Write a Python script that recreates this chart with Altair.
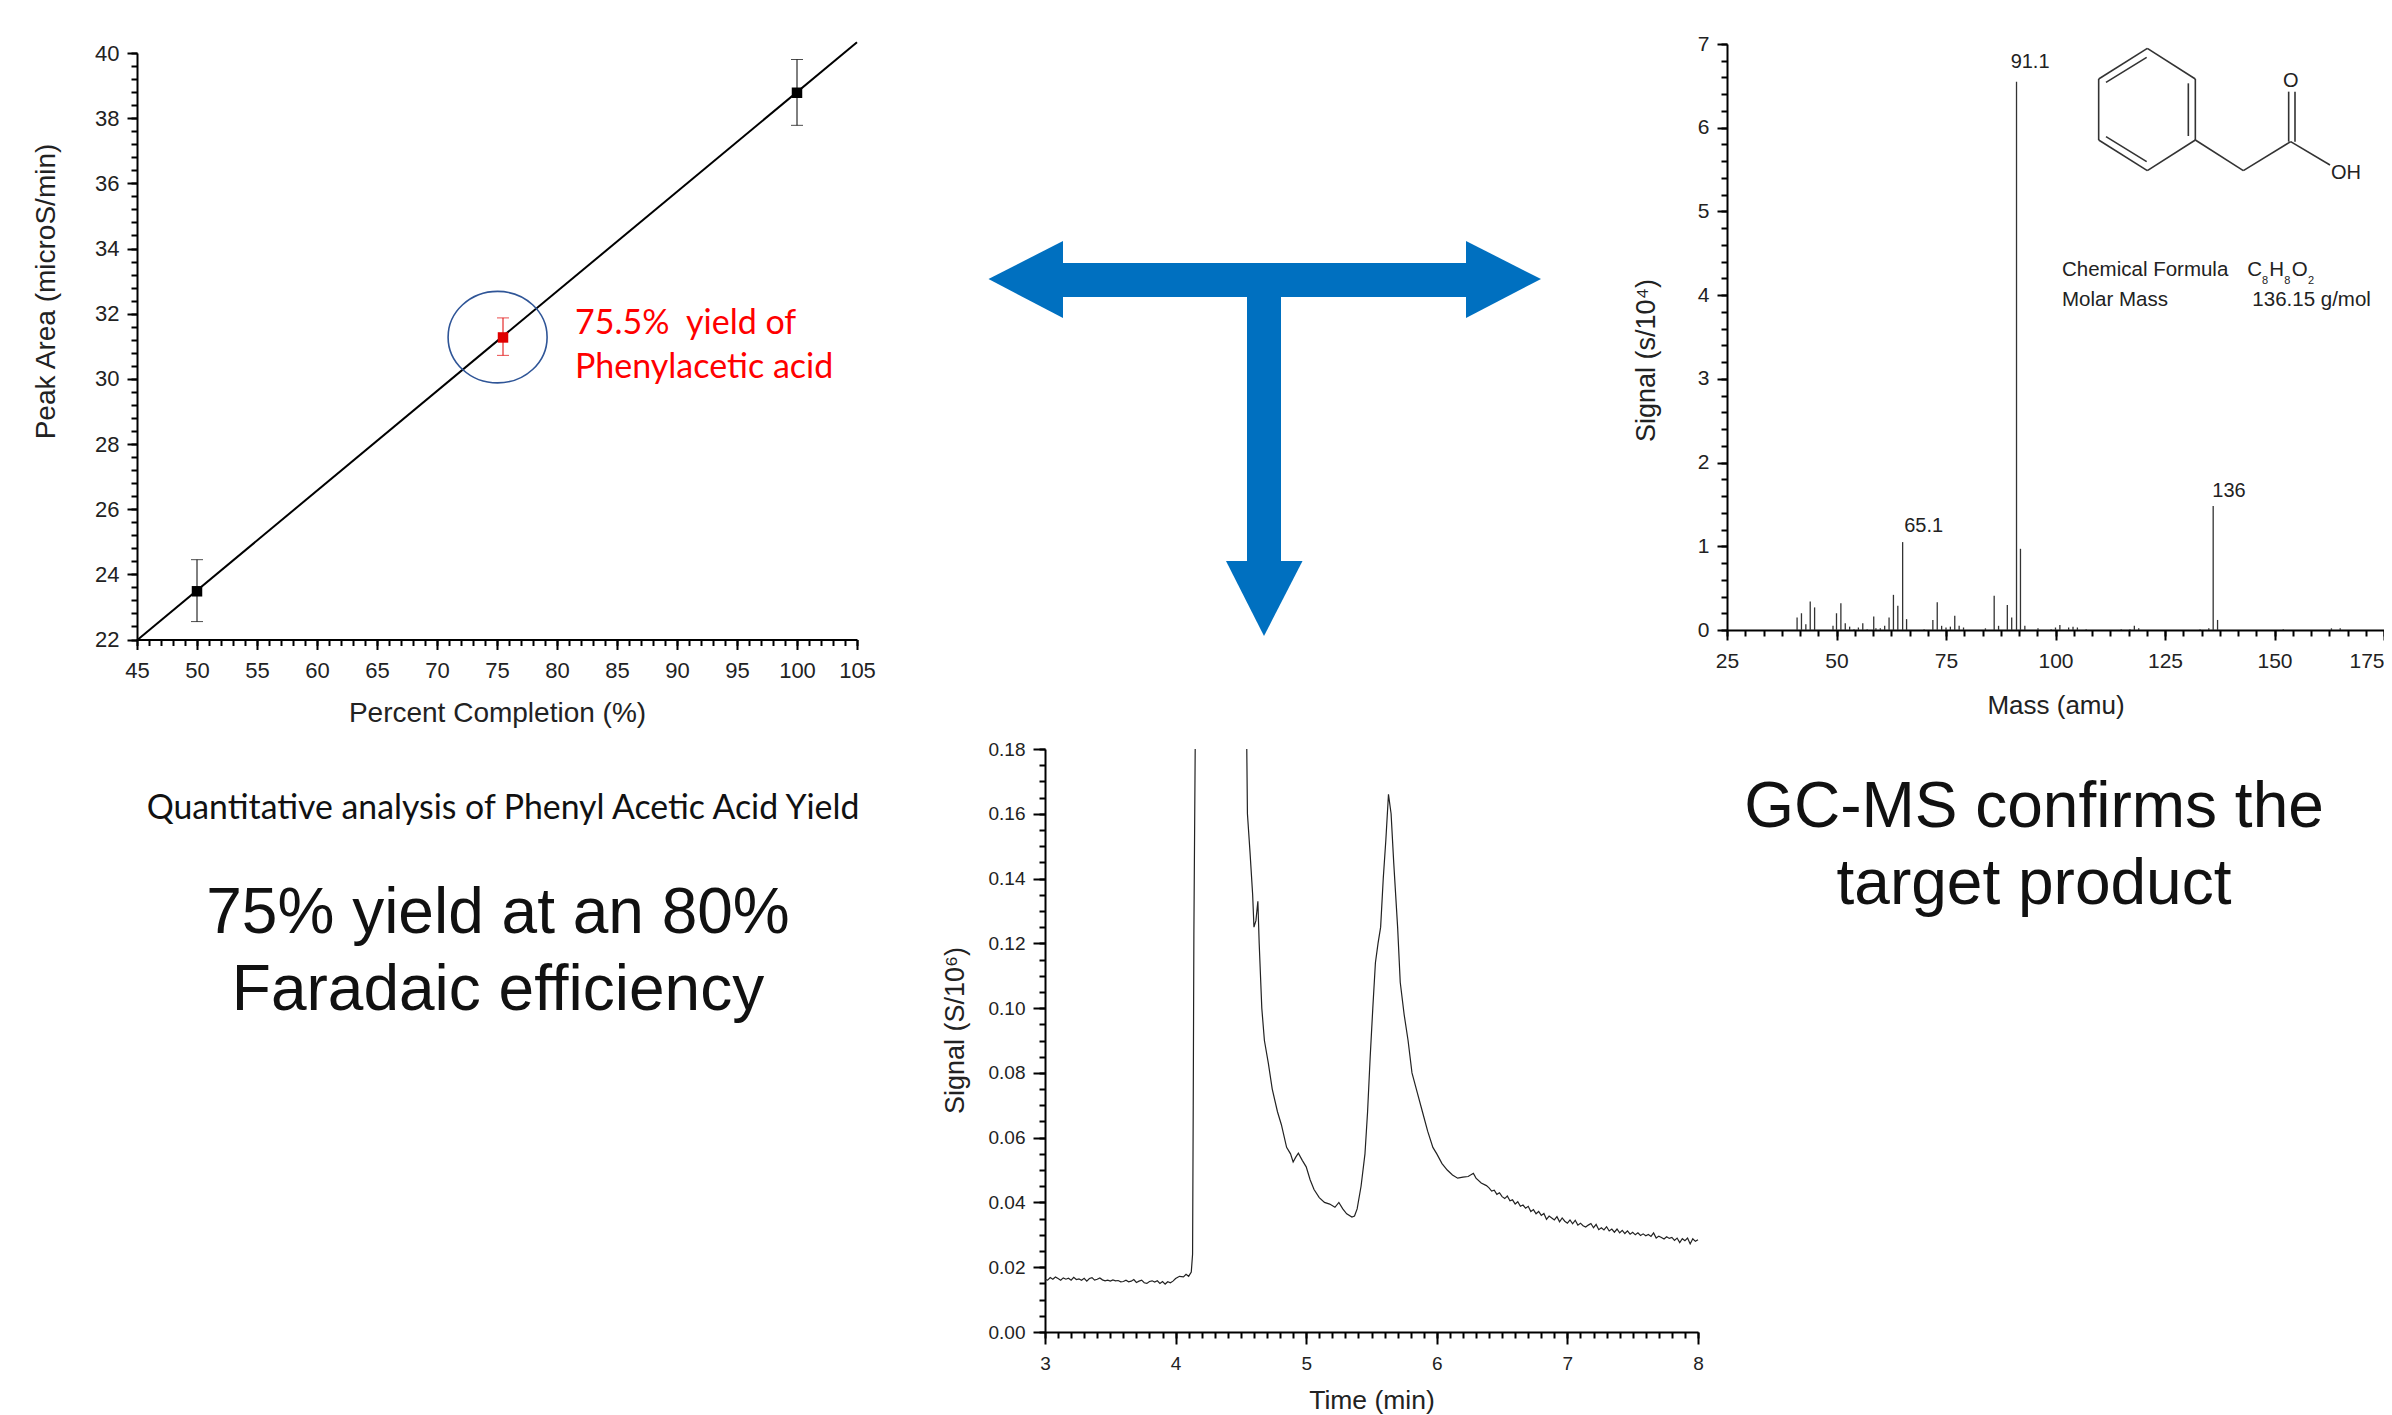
import altair as alt
import pandas as pd

W, H = 2376, 1407
SANS = "Liberation Sans"
SLIDE = "Lato"
INK = "#222222"

# ---- Panel 1: calibration
CAL_X = [50, 75.5, 100]
CAL_Y = [23.48, 31.27, 38.78]
CAL_LO = [22.55, 30.72, 37.78]
CAL_HI = [24.45, 31.87, 39.8]
CAL_COL = ["black", "#e00000", "black"]
FIT_X = [45, 105]
FIT_Y = [21.98, 40.33]

# ---- Panel 2: mass spectrum
MS_MASS = [41, 42, 43, 44, 45, 49.2, 50, 51, 52, 53, 54, 55, 56, 57, 58.5, 59, 60, 61, 62, 63, 64, 65.1, 66,
           70, 72, 73, 74, 75, 76, 77, 78, 79, 84, 86, 87, 89, 90, 91.1, 92, 93, 96, 99, 100, 101, 103, 104,
           105, 107, 115, 117, 118, 119, 133, 135, 136, 137, 152, 163, 165]
MS_SIG = [.15, .2, .07, .34, .27, .05, .2, .32, .08, .04, .01, .03, .08, .01, .16, .02, .02, .05, .15, .42, .29, 1.05, .13,
          .01, .12, .33, .05, .03, .04, .17, .05, .03, .02, .41, .05, .3, .15, 6.55, .97, .05, .02, .01, .03, .06, .03, .04,
          .03, .01, .01, .01, .05, .02, .01, .02, 1.48, .12, .01, .02, .02]

# ---- Panel 3: chromatogram (the second peak runs off the top, so two pieces)
GC_BASE_S = [.0162, .0160, .0168, .0163, .0170, .0165, .0160, .0167, .0163, .0166,
             .0160, .0169, .0162, .0164, .0160, .0166, .0157, .0165, .0168, .0160,
             .0163, .0167, .0161, .0158, .0160, .0157, .0161, .0158, .0159, .0155,
             .0156, .0160, .0155, .0157, .0162, .0153, .0157, .0160, .0152, .0150,
             .0156, .0158, .0154, .0158, .0150, .0156, .0148, .0155, .0152, .0157]
GC1_T = [4.0, 4.03, 4.06, 4.08, 4.10, 4.12, 4.13, 4.135, 4.14, 4.15]
GC1_S = [.0165, .0172, .017, .0178, .0172, .0185, .024, .07, .123, .18]
GC2_T = [4.545, 4.55, 4.57, 4.59, 4.60, 4.615, 4.63, 4.64, 4.66, 4.68, 4.71, 4.74, 4.78, 4.81, 4.85, 4.88, 4.9, 4.92,
         4.94, 4.97, 5.0, 5.03, 5.06, 5.1, 5.14, 5.18, 5.22, 5.25, 5.28, 5.31, 5.35, 5.37, 5.39, 5.42, 5.45, 5.47,
         5.49, 5.51, 5.53, 5.55, 5.57, 5.59, 5.61, 5.63, 5.65, 5.67, 5.70, 5.72, 5.75, 5.78, 5.81, 5.85, 5.89, 5.93,
         5.97, 6.0, 6.04, 6.08, 6.12, 6.16, 6.2, 6.24, 6.28, 6.3, 6.34, 6.38]
GC2_S = [.18, .16, .148, .135, .125, .127, .133, .12, .10, .09, .083, .075, .068, .064, .057, .055, .0525, .054,
         .0552, .053, .051, .047, .044, .0415, .04, .0395, .0385, .04, .038, .0365, .0355, .0358, .038, .045, .055, .068,
         .085, .10, .114, .12, .125, .14, .152, .166, .16, .145, .125, .108, .098, .09, .08, .074, .068, .062,
         .057, .055, .052, .05, .0485, .0475, .0478, .048, .049, .0475, .046, .0452]
GC_TAIL_S = [.0445, .0435, .0438, .0425, .0430, .0418, .0412, .0420, .0405, .0408,
             .0395, .0402, .0388, .0392, .0382, .0388, .0372, .0378, .0365, .0372,
             .0360, .0366, .0348, .0358, .0352, .0346, .0356, .0340, .0352, .0342,
             .0336, .0346, .0334, .0345, .0330, .0336, .0328, .0324, .0330, .0335,
             .0322, .0332, .0316, .0322, .0315, .0325, .0312, .0318, .0308, .0318,
             .0306, .0314, .0304, .0312, .0302, .0308, .0300, .0306, .0298, .0303,
             .0297, .0301, .0295, .0306, .0290, .0296, .0292, .0287, .0294, .0289,
             .0292, .0283, .0290, .0276, .0288, .0282, .0290, .0272, .0288, .0280, .0285]

# ---- Slide annotations, in slide pixels / structure-drawing units
ARROW_SHAFT_H = [1063, 1466, 263, 297]
ARROW_SHAFT_V = [1247, 1281, 263, 561]
HEAD_L = dict(x=[988.5, 1063], y=[279, 241], y2=[279, 318])
HEAD_R = dict(x=[1466, 1541], y=[241, 279], y2=[318, 279])
HEAD_D = dict(y=[561, 636], x=[1226, 1264], x2=[1302.5, 1264])

BONDS = [(292, 55, 436, 147), (436, 147, 436, 330), (436, 330, 292, 422), (292, 422, 146, 330), (146, 330, 146, 147),
         (146, 147, 292, 55), (290, 82, 168, 157), (415, 160, 415, 318), (168, 320, 290, 395), (436, 330, 580, 422),
         (580, 422, 722, 335), (722, 335, 840, 405), (716, 335, 716, 185), (735, 335, 735, 185)]


def sc(dom, rng):
    return alt.Scale(domain=dom, range=rng, nice=False, zero=False)


def ax(orient, at, values, size, labels=True, fmt=None, title=None, lsize=22, tsize=25, pad=8, tpad=10, width=2,
       title_xy=None, label_align=None):
    kw = dict(orient=orient, values=values, tickSize=size, tickWidth=width, tickColor="black", grid=False,
              domain=labels, domainColor="black", domainWidth=width, labels=labels, labelOverlap=False,
              labelFlush=False, labelBound=False, labelFont=SANS, labelFontSize=lsize, labelColor=INK,
              labelPadding=pad, titleFont=SANS, titleFontSize=tsize, titleFontWeight="normal",
              titleColor=INK, titlePadding=tpad, offset=(at - H if orient == "bottom" else -at))
    kw["title"] = title
    if fmt:
        kw["format"] = fmt
    if title_xy:
        kw["titleX"], kw["titleY"] = title_xy
    if label_align:
        kw["labelAlign"] = label_align
    return alt.Axis(**kw)


def frame(xs, ys, x_major, y_major, x_minor, y_minor, x_at, y_at, x_title, y_title, xfmt, yfmt, **st):
    """Major and minor axes of one panel, sharing that panel's scales."""
    d = pd.DataFrame({"x": [xs.domain[0]], "y": [ys.domain[0]]})
    base = alt.Chart(d).mark_point(opacity=0)
    major = base.encode(
        x=alt.X("x:Q", scale=xs, axis=ax("bottom", x_at, x_major, st.get("big", 10), fmt=xfmt, title=x_title,
                                         lsize=st.get("ls", 22), tsize=st.get("xts", 28), tpad=st.get("xtp", 10),
                                         pad=st.get("xpad", 8), label_align=st.get("xalign"))),
        y=alt.Y("y:Q", scale=ys, axis=ax("left", y_at, y_major, st.get("big", 10), fmt=yfmt, title=y_title,
                                         lsize=st.get("ls", 22), tsize=st.get("yts", 28), title_xy=st.get("yt"))),
    )
    minor = base.encode(
        x=alt.X("x:Q", scale=xs, axis=ax("bottom", x_at, x_minor, st.get("small", 6), labels=False)),
        y=alt.Y("y:Q", scale=ys, axis=ax("left", y_at, y_minor, st.get("small", 6), labels=False)),
    )
    return [major, minor]


def text_layer(rows, size, xs, ys, color=INK, font=SANS, align="center"):
    d = pd.DataFrame(rows, columns=["x", "y", "t"])
    return alt.Chart(d).mark_text(fontSize=size, font=font, color=color, align=align, baseline="middle").encode(
        x=alt.X("x:Q", scale=xs, axis=None), y=alt.Y("y:Q", scale=ys, axis=None), text="t:N")


def panel(layers):
    return alt.layer(*layers).resolve_axis(x="independent", y="independent")


# ---------------- Panel 1
xs1, ys1 = sc([45, 105], [129, 849]), sc([22, 40], [631.5, 45])
cal = pd.DataFrame({"x": CAL_X, "y": CAL_Y, "lo": CAL_LO, "hi": CAL_HI, "c": CAL_COL})
X1, Y1 = alt.X("x:Q", scale=xs1, axis=None), alt.Y("y:Q", scale=ys1, axis=None)
fit = alt.Chart(pd.DataFrame({"x": FIT_X, "y": FIT_Y})).mark_line(color="black", strokeWidth=2).encode(x=X1, y=Y1)
err = alt.Chart(cal).mark_rule(strokeWidth=1).encode(
    x=X1, y=alt.Y("lo:Q", scale=ys1, axis=None), y2="hi:Q", color=alt.Color("c:N", scale=None))
caps = [alt.Chart(cal).mark_tick(orient="horizontal", size=12, thickness=1).encode(
    x=X1, y=alt.Y(f"{k}:Q", scale=ys1, axis=None), color=alt.Color("c:N", scale=None)) for k in ("lo", "hi")]
pts = alt.Chart(cal).mark_point(shape="square", filled=True, size=110, opacity=1).encode(
    x=X1, y=Y1, color=alt.Color("c:N", scale=None))
ring = alt.Chart(pd.DataFrame({"x": [75.05], "y": [31.28]})).mark_point(
    shape="M-1,0A1,0.924 0 1,1 1,0A1,0.924 0 1,1 -1,0Z", size=9801, color="#2F5597", strokeWidth=1.6,
    filled=False, opacity=1).encode(x=X1, y=Y1)
p1 = panel(frame(xs1, ys1, list(range(45, 106, 5)), list(range(22, 41, 2)),
                 [45 + i for i in range(61)], [22 + .4 * i for i in range(46)], 631.5, 129,
                 "Percent Completion (%)", "Peak Area (microS/min)", "d", "d",
                 yt=(-77, 283), xtp=18, xpad=11)
           + [fit, err] + caps + [pts, ring])

# ---------------- Panel 2
xs2, ys2 = sc([25, 175], [1719, 2376]), sc([0, 7], [622, 36])
ms = pd.DataFrame({"x": MS_MASS, "y": MS_SIG, "z": [0] * len(MS_SIG)})
sticks = alt.Chart(ms).mark_rule(color="#333333", strokeWidth=1.3).encode(
    x=alt.X("x:Q", scale=xs2, axis=None), y=alt.Y("z:Q", scale=ys2, axis=None), y2="y:Q")
peak_txt = text_layer([(94.2, 6.78, "91.1"), (69.9, 1.24, "65.1"), (139.6, 1.66, "136")], 20, xs2, ys2)
p2 = panel(frame(xs2, ys2, list(range(25, 176, 25)), list(range(0, 8)),
                 [25 + i * 25 / 6 for i in range(37)], [.2 * i for i in range(36)], 622, 1719,
                 "Mass (amu)", "Signal (s/10⁴)", "d", "d", ls=21, xts=26, yts=27, big=10, small=6,
                 yt=(-67, 352), xtp=21, xpad=10,
                 xalign={"expr": "datum.value == 175 ? 'right' : 'center'"})
           + [sticks, peak_txt])

# ---------------- Panel 3
xs3, ys3 = sc([3, 8], [1037, 1690]), sc([0, .18], [1324, 741])
base_t = [3 + .02 * i for i in range(len(GC_BASE_S))]
tail_t = [6.40 + .02 * i for i in range(len(GC_TAIL_S))]
gc = pd.DataFrame({"x": base_t + GC1_T + GC2_T + tail_t,
                   "y": GC_BASE_S + GC1_S + GC2_S + GC_TAIL_S,
                   "seg": [0] * (len(base_t) + len(GC1_T)) + [1] * (len(GC2_T) + len(tail_t))})
trace = alt.Chart(gc).mark_line(color="#222222", strokeWidth=1.2).encode(
    x=alt.X("x:Q", scale=xs3, axis=None), y=alt.Y("y:Q", scale=ys3, axis=None), detail="seg:N")
p3 = panel(frame(xs3, ys3, list(range(3, 9)), [.02 * i for i in range(10)],
                 [3 + .1 * i for i in range(51)], [.005 * i for i in range(37)], 1324, 1037,
                 "Time (min)", "Signal (S/10⁶)", "d", ".2f", ls=19, xts=26.5, yts=27, big=12, small=6,
                 yt=(-76, 1022), xtp=14, xpad=10)
           + [trace])

# ---------------- Slide furniture
xp, yp = sc([0, 2392], [-8, 2384]), sc([0, 1415], [-8, 1407])
BLUE = "#0070C0"
def rect(b):
    d = pd.DataFrame({"x": [b[0]], "x2": [b[1]], "y": [b[2]], "y2": [b[3]]})
    return alt.Chart(d).mark_rect(color=BLUE).encode(
        x=alt.X("x:Q", scale=xp, axis=None), x2="x2:Q", y=alt.Y("y:Q", scale=yp, axis=None), y2="y2:Q")
def vhead(h):
    return alt.Chart(pd.DataFrame(h)).mark_area(color=BLUE, orient="vertical", opacity=1).encode(
        x=alt.X("x:Q", scale=xp, axis=None), y=alt.Y("y:Q", scale=yp, axis=None), y2="y2:Q")
def dhead(h):
    return alt.Chart(pd.DataFrame(h)).mark_area(color=BLUE, orient="horizontal", opacity=1).encode(
        y=alt.Y("y:Q", scale=yp, axis=None), x=alt.X("x:Q", scale=xp, axis=None), x2="x2:Q")

slide = alt.layer(
    rect(ARROW_SHAFT_H), rect(ARROW_SHAFT_V), vhead(HEAD_L), vhead(HEAD_R), dhead(HEAD_D),
    text_layer([(503, 809, "Quantitative analysis of Phenyl Acetic Acid Yield")], 33.8, xp, yp, color="#111111", font=SLIDE),
    text_layer([(498, 914, "75% yield at an 80%"), (498, 991, "Faradaic efficiency"),
                (2034, 808, "GC-MS confirms the"), (2034, 885, "target product")], 64, xp, yp, color="#111111"),
    text_layer([(575, 324, "75.5%\u00a0 yield of"), (575, 368, "Phenylacetic acid")], 34, xp, yp,
               color="#FF0000", font=SLIDE, align="left"),
)

# ---------------- Structure, in drawing units
xm, ym = sc([0, 1026], [2042, 2384]), sc([0, 900], [22, 322])
bonds = pd.DataFrame(BONDS, columns=["x", "y", "x2", "y2"])
bond_marks = alt.Chart(bonds).mark_rule(color="#333333", strokeWidth=1.6).encode(
    x=alt.X("x:Q", scale=xm, axis=None), y=alt.Y("y:Q", scale=ym, axis=None), x2="x2:Q", y2="y2:Q")
mol = alt.layer(
    bond_marks,
    text_layer([(722, 153, "O"), (888, 428, "OH")], 20, xm, ym),
    text_layer([(36, 719, "Chemical Formula"), (36, 809, "Molar Mass"), (607, 809, "136.15 g/mol"),
                (592, 719, "C"), (658, 719, "H"), (725, 719, "O")], 20.5, xm, ym, align="left"),
    text_layer([(645, 752, "8"), (712, 752, "8"), (783, 752, "2")], 11, xm, ym),
)

chart = alt.layer(slide, p1, p2, p3, mol).resolve_scale(x="independent", y="independent").resolve_axis(
    x="independent", y="independent"
).properties(width=W, height=H, padding=0, background="white", autosize=alt.AutoSizeParams(type="none")
).configure_view(stroke=None)

chart.save("out.html", embed_options={"renderer": "svg", "actions": False})
